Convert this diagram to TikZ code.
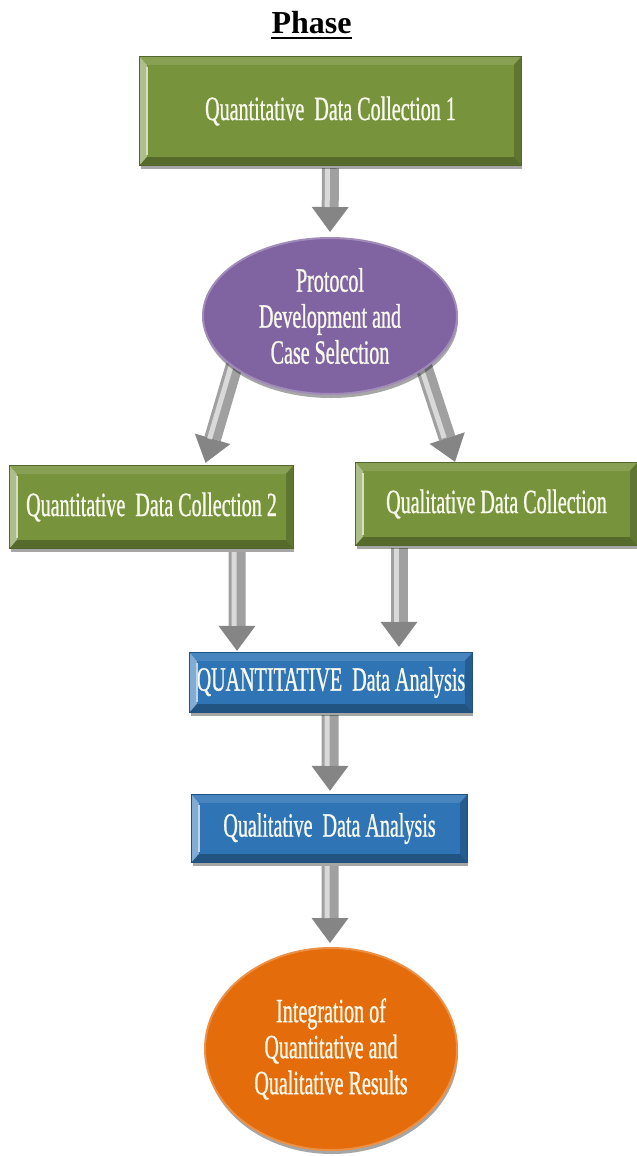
\documentclass[tikz,border=0pt]{standalone}
\usepackage{fontspec}
\setmainfont{Liberation Serif}
\newfontfamily\condfont[FakeStretch=0.59,FakeBold=0.8]{Liberation Serif}
\usetikzlibrary{shapes.geometric,shadows,arrows.meta,calc}
\pgfdeclarelayer{back}
\pgfdeclarelayer{bg}
\pgfsetlayers{back,bg,main}
\definecolor{gfill}{HTML}{77933C}
\definecolor{pfill}{HTML}{8064A2}
\definecolor{bfill}{HTML}{2F74B5}
\definecolor{ofill}{HTML}{E46C0A}
\definecolor{txtc}{HTML}{F8F8EC}
\definecolor{shaftc}{HTML}{A0A0A0}
\definecolor{tipc}{HTML}{858585}
\newcommand\boxfont{\condfont\fontsize{34bp}{36bp}\selectfont}
\newcommand\bevelbox[2]{%
 \fill[#2!88!white] (#1.north west) -- (#1.north east) -- ($(#1.north east)+(-8,8)$) -- ($(#1.north west)+(8,8)$) -- cycle;
 \fill[#2!60!white] (#1.north west) -- ($(#1.north west)+(7,8)$) -- ($(#1.south west)+(7,-8)$) -- (#1.south west) -- cycle;
 \fill[#2!80!black] (#1.north east) -- ($(#1.north east)+(-7,8)$) -- ($(#1.south east)+(-7,-8)$) -- (#1.south east) -- cycle;
 \fill[#2!72!black] (#1.south west) -- ($(#1.south west)+(7,-8)$) -- ($(#1.south east)+(-7,-8)$) -- (#1.south east) -- cycle;
 \draw[#2!30!white, line width=1.5bp] ($(#1.north west)+(7,10)$) -- ($(#1.south west)+(7,-10)$);
 \draw[#2!70!black, line width=1bp] (#1.north west) rectangle (#1.south east);
}
\tikzset{
  boxnode/.style={rectangle, inner sep=0pt, fill=#1, text=txtc, font=\boxfont,
    drop shadow={shadow xshift=1bp, shadow yshift=-4bp, opacity=.35, fill=black}},
  ellnode/.style={ellipse, inner sep=0pt, fill=#1, draw=#1!75!white, line width=2bp,
    text=txtc, font=\boxfont, align=center,
    drop shadow={shadow xshift=1bp, shadow yshift=-4bp, opacity=.35, fill=black}},
  fat/.style={line width=17bp, draw=shaftc,
    -{Triangle[width=37bp,length=25bp,line width=0pt,color=tipc,fill=tipc]},
    postaction={draw=white!70!gray, line width=5bp, -, shorten >=25bp,
      transform canvas={xshift=-3bp}}}
}
\begin{document}
\begin{tikzpicture}[x=1bp,y=-1bp]
\useasboundingbox (0,0) rectangle (637,1156);
\begin{pgfonlayer}{back}
\fill[white] (0,0) rectangle (637,1156);
\end{pgfonlayer}

\node[inner sep=0pt, anchor=base, font=\bfseries\fontsize{32bp}{36bp}\selectfont] (ph) at (311.5,33) {Phase};
\draw[line width=2.5bp] ($(ph.base west)+(0,5)$) -- ($(ph.base east)+(0,5)$);

\node[boxnode=gfill, minimum width=381bp, minimum height=108bp] (b1) at (330.5,111) {Quantitative\ \ Data Collection 1};
\bevelbox{b1}{gfill}

\node[ellnode=pfill, minimum width=254bp, minimum height=156bp] (e1) at (330,316)
  {Protocol\\Development and\\Case Selection};

\node[boxnode=gfill, minimum width=283bp, minimum height=82bp] (q2) at (151.5,507) {Quantitative\ \ Data Collection 2};
\bevelbox{q2}{gfill}

\node[boxnode=gfill, minimum width=281bp, minimum height=82bp] (q3) at (496.5,504) {Qualitative Data Collection};
\bevelbox{q3}{gfill}

\node[boxnode=bfill, minimum width=282bp, minimum height=59bp] (qa) at (331,682.5) {QUANTITATIVE\ \ Data Analysis};
\bevelbox{qa}{bfill}

\node[boxnode=bfill, minimum width=275bp, minimum height=67bp] (qd) at (329.5,828.5) {Qualitative\ \ Data Analysis};
\bevelbox{qd}{bfill}

\node[ellnode=ofill, minimum width=252bp, minimum height=202bp] (e2) at (331,1049)
  {Integration of\\Quantitative and\\Qualitative Results};

\begin{pgfonlayer}{bg}
\draw[fat] ($(b1.south)+(0,3)$) -- ($(e1.north)+(0,-5)$);
\draw[fat] ($(e1.center)+(-90,30)$) -- ($(q2.north)+(54,-3)$);
\draw[fat] ($(e1.center)+(87,30)$) -- ($(q3.north)+(-41.5,-1)$);
\draw[fat] ($(q2.south)+(85.5,4)$) -- ($(qa.north)+(-94,-2)$);
\draw[fat] ($(q3.south)+(-97.5,3)$) -- ($(qa.north)+(68,-6)$);
\draw[fat] ($(qa.south)+(-1,3)$) -- ($(qd.north)+(0.5,-4)$);
\draw[fat] ($(qd.south)+(0.5,4)$) -- ($(e2.north)+(-1,-4)$);
\end{pgfonlayer}
\end{tikzpicture}
\end{document}
